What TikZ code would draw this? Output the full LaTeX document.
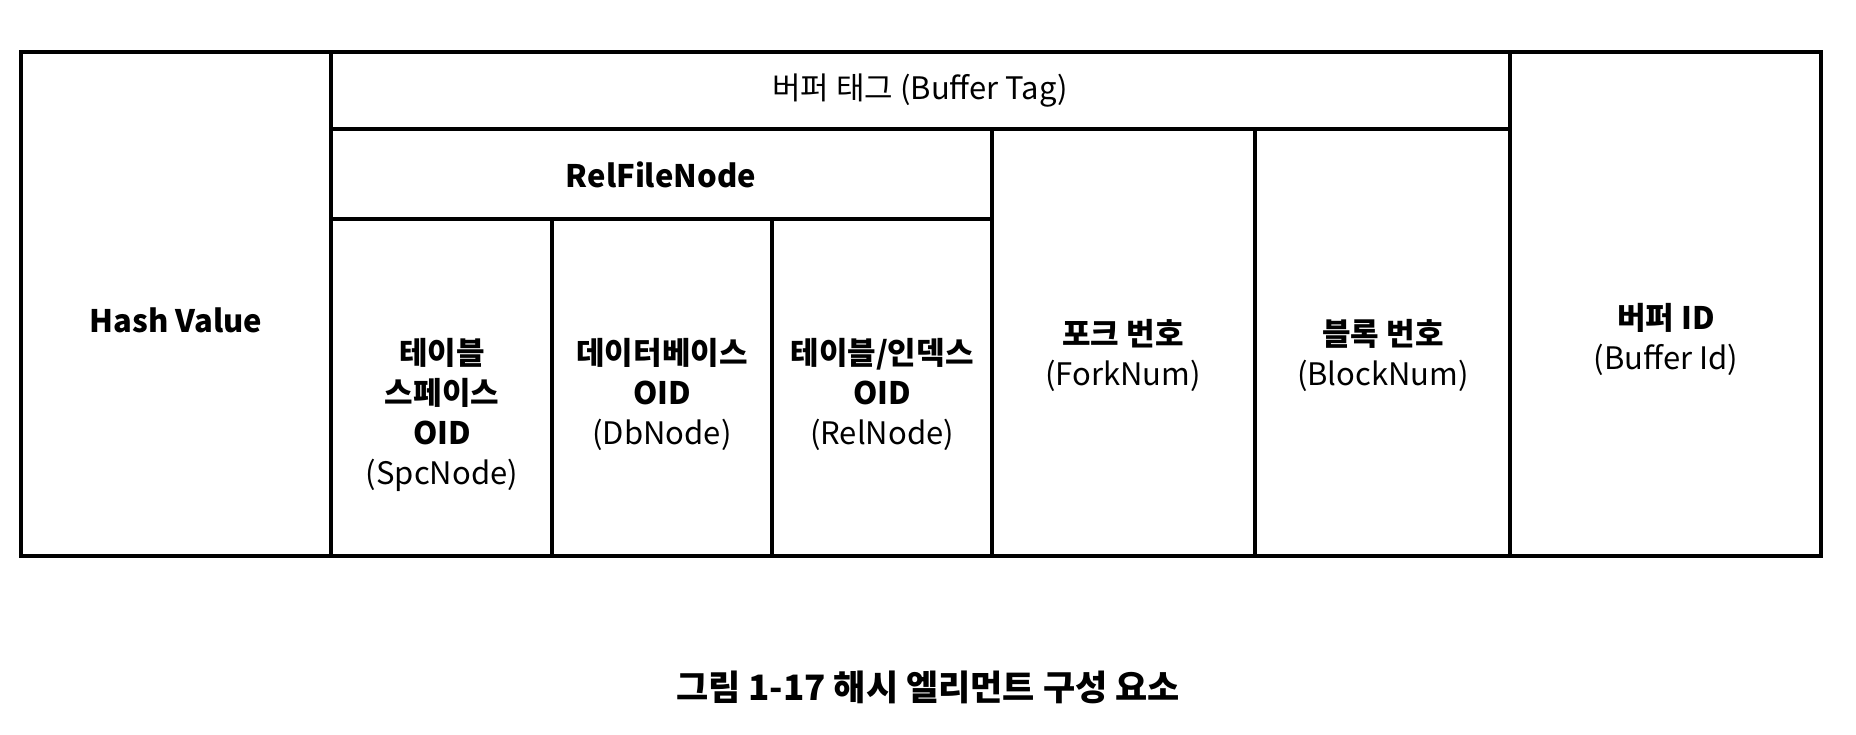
\documentclass[tikz,border=0pt]{standalone}
\usepackage{fontspec}
\setmainfont{Noto Sans CJK KR}
\begin{document}
\begin{tikzpicture}[x=1pt,y=-1pt,
  grid/.style={line width=3.2pt,line cap=rect},
  outer/.style={line width=4.2pt,line cap=rect,line join=miter},
  lbl/.style={align=center,inner sep=0pt,font=\fontsize{31}{40}\selectfont},
  captionstyle/.style={inner sep=0pt,font=\fontsize{35}{40}\selectfont\bfseries}]
\fill[white] (0,0) rectangle (1856,734);
\useasboundingbox (0,0) rectangle (1856,734);
% grid lines
\draw[grid] (331,52) -- (331,556);
\draw[grid] (1510,52) -- (1510,556);
\draw[grid] (331,129) -- (1510,129);
\draw[grid] (331,219) -- (992,219);
\draw[grid] (552,219) -- (552,556);
\draw[grid] (772,219) -- (772,556);
\draw[grid] (992,129) -- (992,556);
\draw[grid] (1255,129) -- (1255,556);
\draw[outer] (21,52) rectangle (1821,556);
% labels
\node[lbl] (hash) at (176,320) {\bfseries Hash Value};
\node[lbl] (tag) at (920,91) {버퍼 태그 (Buffer Tag)};
\node[lbl] (rfn) at (661,175) {\bfseries RelFileNode};
\node[lbl] (spc) at (442,415) {\bfseries 테이블\\\bfseries 스페이스\\\bfseries OID\\(SpcNode)};
\node[lbl] (db) at (662,394) {\bfseries 데이터베이스\\\bfseries OID\\(DbNode)};
\node[lbl] (rel) at (882,394) {\bfseries 테이블/인덱스\\\bfseries OID\\(RelNode)};
\node[lbl] (fork) at (1123,355) {\bfseries 포크 번호\\(ForkNum)};
\node[lbl] (blk) at (1383,355) {\bfseries 블록 번호\\(BlockNum)};
\node[lbl] (bid) at (1666,339) {\bfseries 버퍼 ID\\(Buffer Id)};
\node[captionstyle] (caption) at (928,687) {그림 1-17 해시 엘리먼트 구성 요소};
\end{tikzpicture}
\end{document}
